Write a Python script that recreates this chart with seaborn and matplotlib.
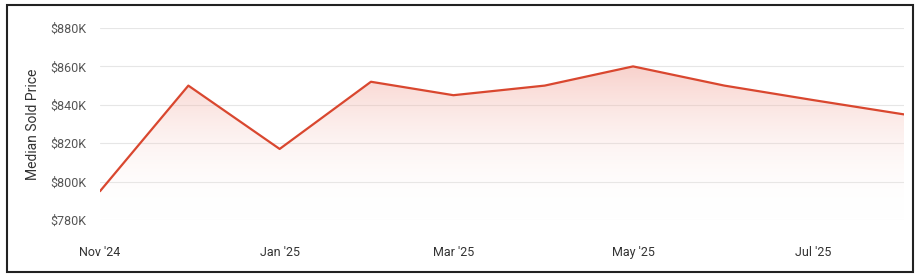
import matplotlib
matplotlib.use("Agg")
import matplotlib.pyplot as plt
import seaborn as sns
import numpy as np
import pandas as pd
from matplotlib.patches import Rectangle, Polygon
from matplotlib.ticker import FuncFormatter

months = ["2024-11", "2024-12", "2025-01", "2025-02", "2025-03", "2025-04",
          "2025-05", "2025-06", "2025-07", "2025-08"]
prices_k = [795, 850, 817, 852, 845, 850, 860, 850, 842.5, 835]
tick_months = ["2024-11", "2025-01", "2025-03", "2025-05", "2025-07"]
tick_labels = ["Nov '24", "Jan '25", "Mar '25", "May '25", "Jul '25"]
y_ticks_k = [780, 800, 820, 840, 860, 880]

df = pd.DataFrame({"month": pd.to_datetime(months), "price": prices_k})

sns.set_theme(style="white")
plt.rcParams['font.family'] = ['Roboto', 'DejaVu Sans']

fig = plt.figure(figsize=(9.16, 2.76), dpi=100)
ax = fig.add_axes([100/916, 1-220/276, 804/916, 192/276])

line_color = "#d9472f"
sns.lineplot(data=df, x="month", y="price", ax=ax, color=line_color, linewidth=1.6)

ax.set_ylim(780, 880)
xnum = matplotlib.dates.date2num(df["month"])
ax.set_xlim(xnum[0], xnum[-1])

# gradient fill
verts = [(xnum[0], 780)] + list(zip(xnum, df["price"])) + [(xnum[-1], 780)]
poly = Polygon(verts, closed=True, facecolor="none", edgecolor="none")
ax.add_patch(poly)
grad = np.linspace(0, 1, 256).reshape(-1, 1)
cmap = matplotlib.colors.LinearSegmentedColormap.from_list(
    "g", [(1, 1, 1, 0.0), (0.94, 0.60, 0.55, 0.45)])
im = ax.imshow(grad, extent=[xnum[0], xnum[-1], 780, 860], origin="lower",
               aspect="auto", cmap=cmap, zorder=1)
im.set_clip_path(poly)

ax.set_yticks(y_ticks_k)
ax.yaxis.set_major_formatter(FuncFormatter(lambda v, p: f"${int(v)}K"))
ax.set_xticks(matplotlib.dates.date2num(pd.to_datetime(tick_months)))
ax.set_xticklabels(tick_labels)
ax.grid(axis="y", color="#e6e6e6", linewidth=0.8)
ax.set_axisbelow(True)
for s in ax.spines.values():
    s.set_visible(False)
ax.tick_params(axis="y", labelsize=9, colors="#555555", pad=10, length=0)
ax.tick_params(axis="x", labelsize=9, colors="#333333", pad=19, length=0)
ax.set_xlabel("")
ax.set_ylabel("Median Sold Price", fontsize=10, color="#333333", labelpad=7)

fig.patches.append(Rectangle((7/916, 4/276), 906/916, 267/276, transform=fig.transFigure,
                             fill=False, edgecolor="#222222", linewidth=1.5))

fig.savefig("out.png", dpi=100)
